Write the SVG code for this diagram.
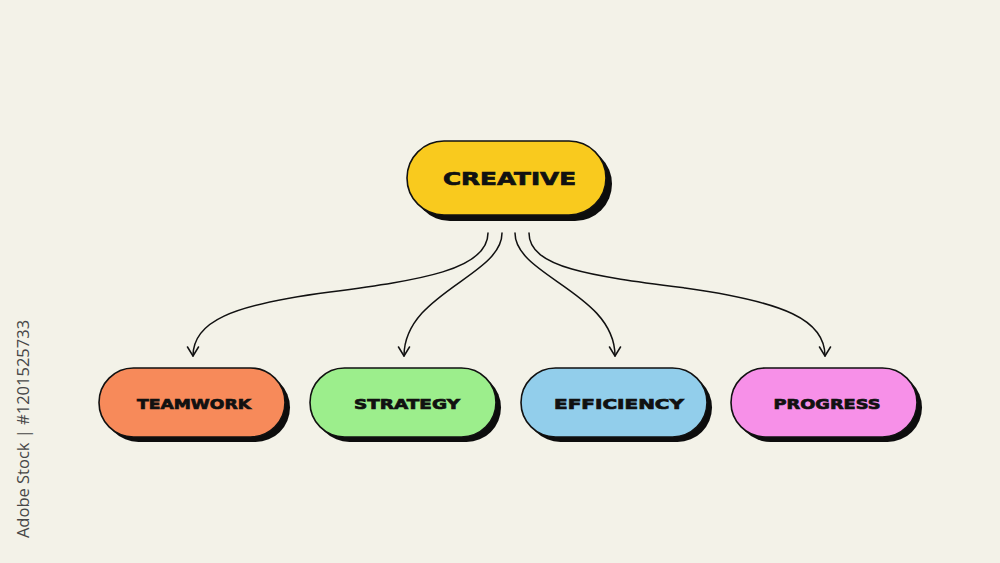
<svg xmlns="http://www.w3.org/2000/svg" width="1000" height="563" viewBox="0 0 1000 563">
  <style>
    .shadow { fill: #0d0d0d; }
    .pill { stroke: #111; stroke-width: 1.6; }
    .label { font-family: "DejaVu Sans", "Liberation Sans", sans-serif; font-weight: bold; fill: #111; stroke: #111; stroke-width: 0.7; text-anchor: middle; }
    .conn { fill: none; stroke: #111; stroke-width: 1.5; stroke-linecap: round; }
    .wm { font-family: "Open Sans", "Noto Sans", sans-serif; font-size: 16.5px; fill: #474747; }
  </style>
  <defs>
    <marker id="arrow" markerWidth="16" markerHeight="16" refX="10" refY="6" orient="auto" markerUnits="userSpaceOnUse" viewBox="0 0 16 12">
      <path d="M1,0.5 L10,6 L1,11.5" fill="none" stroke="#111" stroke-width="1.5" stroke-linecap="round" stroke-linejoin="round"/>
    </marker>
  </defs>
  <rect width="1000" height="563" fill="#f3f2e8"/>

  <g id="connectors">
    <path class="conn" d="M488,233 C488,270 420,280 330,292 C230,305 193,322 193,356" marker-end="url(#arrow)"/>
    <path class="conn" d="M502,233 C502,276 404,293 404,356" marker-end="url(#arrow)"/>
    <path class="conn" d="M515,233 C515,276 615,293 615,356" marker-end="url(#arrow)"/>
    <path class="conn" d="M529,233 C529,268 592,276 685,288 C785,302 825,320 825,356" marker-end="url(#arrow)"/>
  </g>

  <g id="creative">
    <rect class="shadow" x="413" y="147" width="199" height="74" rx="37"/>
    <rect class="pill" x="407" y="141" width="199" height="74" rx="37" fill="#f9ca1e"/>
    <text class="label" x="509.5" y="184.5" font-size="18" textLength="133" lengthAdjust="spacingAndGlyphs">CREATIVE</text>
  </g>

  <g id="teamwork">
    <rect class="shadow" x="104" y="373" width="186" height="69" rx="34.5"/>
    <rect class="pill" x="99" y="368" width="186" height="69" rx="34.5" fill="#f78a5a"/>
    <text class="label" x="194" y="408.5" font-size="14" textLength="114" lengthAdjust="spacingAndGlyphs">TEAMWORK</text>
  </g>

  <g id="strategy">
    <rect class="shadow" x="315" y="373" width="186" height="69" rx="34.5"/>
    <rect class="pill" x="310" y="368" width="186" height="69" rx="34.5" fill="#9cee8c"/>
    <text class="label" x="407" y="408.5" font-size="14" textLength="106" lengthAdjust="spacingAndGlyphs">STRATEGY</text>
  </g>

  <g id="efficiency">
    <rect class="shadow" x="526" y="373" width="186" height="69" rx="34.5"/>
    <rect class="pill" x="521" y="368" width="186" height="69" rx="34.5" fill="#92ceeb"/>
    <text class="label" x="619" y="408.5" font-size="14" textLength="130" lengthAdjust="spacingAndGlyphs">EFFICIENCY</text>
  </g>

  <g id="progress">
    <rect class="shadow" x="736" y="373" width="186" height="69" rx="34.5"/>
    <rect class="pill" x="731" y="368" width="186" height="69" rx="34.5" fill="#f790e8"/>
    <text class="label" x="827" y="408.5" font-size="14" textLength="107" lengthAdjust="spacingAndGlyphs">PROGRESS</text>
  </g>

  <text class="wm" transform="translate(29,429) rotate(-90)" text-anchor="middle">Adobe Stock | #1201525733</text>
</svg>
